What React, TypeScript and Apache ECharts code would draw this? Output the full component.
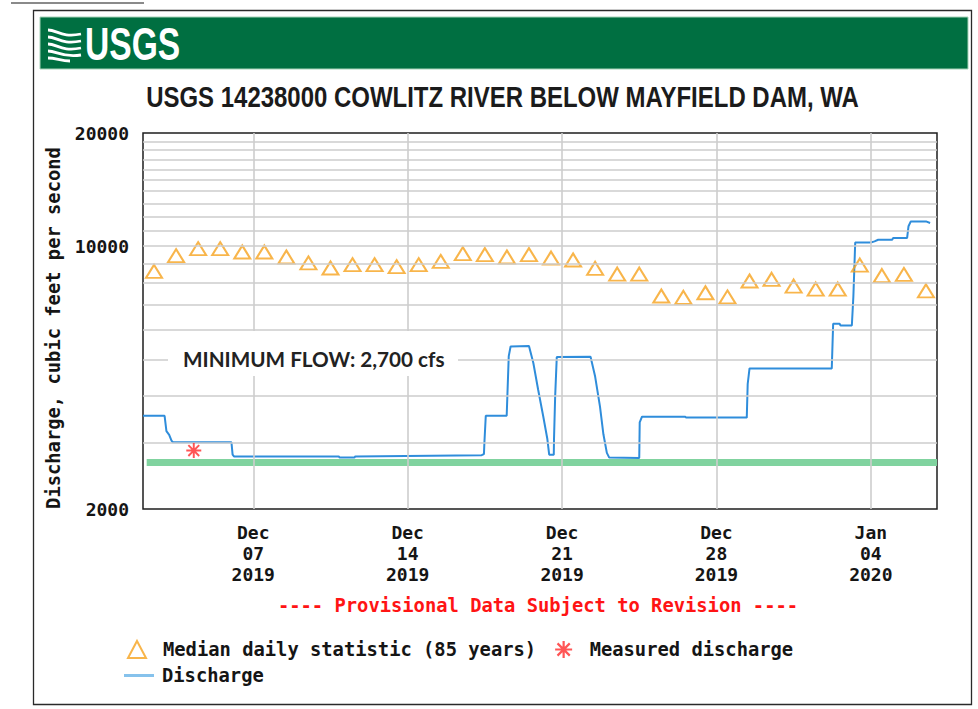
import React, { useEffect, useRef } from 'react';
import * as echarts from 'echarts';

const chartTitle = 'USGS 14238000 COWLITZ RIVER BELOW MAYFIELD DAM, WA';
const yAxisName = 'Discharge, cubic feet per second';
const provisionalNote = '---- Provisional Data Subject to Revision ----';
const minFlowNote = 'MINIMUM FLOW: 2,700 cfs';
const logoText = 'USGS';

const xMin = '2019-12-02 00:00';
const xMax = '2020-01-07 00:00';
const yMin = 2000;
const yMax = 20000;

const tickDates = ['2019-12-07 00:00', '2019-12-14 00:00', '2019-12-21 00:00', '2019-12-28 00:00', '2020-01-04 00:00'];
const tickLabels = ['Dec\n07\n2019', 'Dec\n14\n2019', 'Dec\n21\n2019', 'Dec\n28\n2019', 'Jan\n04\n2020'];
const gridValues = [3000, 4000, 5000, 6000, 7000, 8000, 9000, 10000, 11000, 12000, 13000, 14000, 15000, 16000, 17000, 18000, 19000];

const medianDays = [
  '2019-12-02', '2019-12-03', '2019-12-04', '2019-12-05', '2019-12-06', '2019-12-07', '2019-12-08', '2019-12-09',
  '2019-12-10', '2019-12-11', '2019-12-12', '2019-12-13', '2019-12-14', '2019-12-15', '2019-12-16', '2019-12-17',
  '2019-12-18', '2019-12-19', '2019-12-20', '2019-12-21', '2019-12-22', '2019-12-23', '2019-12-24', '2019-12-25',
  '2019-12-26', '2019-12-27', '2019-12-28', '2019-12-29', '2019-12-30', '2019-12-31', '2020-01-01', '2020-01-02',
  '2020-01-03', '2020-01-04', '2020-01-05', '2020-01-06',
];
const medianValues = [
  8570, 9435, 9850, 9850, 9650, 9650, 9360, 9025,
  8750, 8930, 8930, 8820, 8930, 9110, 9550, 9500,
  9360, 9500, 9300, 9190, 8730, 8430, 8430, 7370,
  7310, 7520, 7330, 8080, 8165, 7835, 7690, 7690,
  8910, 8350, 8410, 7610,
];

const measuredTimes = ['2019-12-04 07:15'];
const measuredValues = [2860];

const minFlowTimes = ['2019-12-02 04:00', '2020-01-07 00:00'];
const minFlowValue = 2660;

const dischargeTimes = [
  '2019-12-02 00:00', '2019-12-02 23:30', '2019-12-03 01:30', '2019-12-03 04:30', '2019-12-03 07:00', '2019-12-03 08:30',
  '2019-12-06 00:15', '2019-12-06 01:30', '2019-12-06 03:00', '2019-12-10 21:00', '2019-12-10 22:00', '2019-12-11 14:00',
  '2019-12-11 15:00', '2019-12-17 08:30', '2019-12-17 11:00', '2019-12-17 11:30', '2019-12-17 13:00', '2019-12-18 11:45',
  '2019-12-18 12:30', '2019-12-18 14:00', '2019-12-18 16:00', '2019-12-19 12:00', '2019-12-19 16:45', '2019-12-19 22:00',
  '2019-12-20 03:30', '2019-12-20 08:00', '2019-12-20 10:00', '2019-12-20 15:00', '2019-12-20 15:15', '2019-12-20 16:30',
  '2019-12-20 18:15', '2019-12-22 07:00', '2019-12-22 12:00', '2019-12-22 17:15', '2019-12-22 21:00', '2019-12-23 00:45',
  '2019-12-23 03:20', '2019-12-24 12:00', '2019-12-24 12:30', '2019-12-24 15:00', '2019-12-26 14:00', '2019-12-26 15:00',
  '2019-12-29 09:00', '2019-12-29 10:00', '2019-12-29 12:00', '2020-01-02 05:30', '2020-01-02 07:00', '2020-01-02 14:00',
  '2020-01-02 15:00', '2020-01-03 03:20', '2020-01-03 05:00', '2020-01-03 07:00', '2020-01-04 00:00', '2020-01-04 04:00',
  '2020-01-04 08:00', '2020-01-04 23:00', '2020-01-05 00:30', '2020-01-05 15:30', '2020-01-05 17:00', '2020-01-05 19:30',
  '2020-01-06 12:00', '2020-01-06 16:30',
];
const dischargeValues = [
  3540, 3540, 3220, 3150, 3040, 3010,
  3010, 2790, 2760, 2760, 2740, 2740,
  2760, 2780, 2800, 3000, 3540, 3540,
  4000, 5100, 5410, 5430, 4890, 4150,
  3530, 3070, 2790, 2790, 3070, 3990,
  5070, 5080, 4500, 3750, 3160, 2820,
  2740, 2735, 3400, 3520, 3520, 3500,
  3500, 4300, 4730, 4730, 6220, 6220,
  6150, 6150, 7350, 10230, 10230, 10300,
  10400, 10400, 10520, 10520, 11300, 11640,
  11640, 11530,
];

const ts = (s: string) => {
  const [d, t = '00:00'] = s.split(' ');
  const [y, m, dd] = d.split('-').map(Number);
  const [hh, mm] = t.split(':').map(Number);
  return new Date(y, m - 1, dd, hh, mm).getTime();
};

const wavePath =
  'M0,3 C9,3 14,11 33,7 M0,10 C9,10 14,18 33,14 M0,17 C9,17 14,25 33,21 M0,24 C9,24 14,31 33,28 M0,31 C8,31 13,34 22,34';
echarts.graphic.registerShape('usgsWave', echarts.graphic.extendPath(wavePath, {}));

const asteriskSymbol =
  'path://M8.7,0H11.3V20H8.7Z M0,8.7H20V11.3H0Z M1.9,3.7L3.7,1.9L18.1,16.3L16.3,18.1Z M16.3,1.9L18.1,3.7L3.7,18.1L1.9,16.3Z';

const MONO = '"DejaVu Sans Mono", monospace';

export default function App() {
  const ref = useRef<HTMLDivElement>(null);
  useEffect(() => {
    if (!ref.current) return;
    const chart = echarts.init(ref.current, null, { renderer: 'svg' });
    const tickTs = tickDates.map(ts);
    const monoText = { fontFamily: MONO, fontWeight: 'bold' as const, color: '#151515' };
    chart.setOption({
      animation: false,
      backgroundColor: '#ffffff',
      grid: {
        left: 143, top: 133, right: 41, bottom: 200,
        show: true, borderColor: '#1e1e1e', borderWidth: 1.5, backgroundColor: 'transparent',
        outerBoundsMode: 'none',
      },
      xAxis: {
        type: 'value',
        min: ts(xMin),
        max: ts(xMax),
        axisLine: { show: false },
        axisTick: { show: false, customValues: tickTs },
        splitLine: { show: false },
        axisLabel: {
          customValues: tickTs,
          formatter: (v: number) => {
            const i = tickTs.findIndex((t) => Math.abs(t - v) < 60000);
            return i >= 0 ? tickLabels[i] : '';
          },
          ...monoText,
          fontSize: 18,
          lineHeight: 21,
          margin: 13,
          hideOverlap: false,
        },
      },
      yAxis: {
        type: 'log',
        logBase: 10,
        min: yMin,
        max: yMax,
        axisLine: { show: false },
        axisTick: { show: false },
        splitLine: { show: false },
        axisLabel: {
          formatter: (v: number) => String(Math.round(v)),
          ...monoText,
          fontSize: 18,
          margin: 14,
        },
        name: yAxisName,
        nameLocation: 'middle',
        nameRotate: 90,
        nameGap: 80,
        nameTextStyle: { ...monoText, fontSize: 18.8, padding: [0, 14, 0, 0] },
      },
      legend: [
        {
          data: ['Median daily statistic (85 years)', 'Measured discharge'],
          left: 127, top: 640, padding: 0, itemWidth: 18, itemHeight: 17, itemGap: 19,
          selectedMode: false,
          textStyle: { ...monoText, fontSize: 18.8, padding: [0, 0, 0, 12] },
        },
        {
          data: [{ name: 'Discharge', icon: 'rect', itemStyle: { color: '#86c2ec' } }],
          left: 124, top: 666, padding: 0, itemWidth: 30, itemHeight: 3,
          selectedMode: false,
          textStyle: { ...monoText, fontSize: 18.8, padding: [0, 0, 0, 3] },
        },
      ],
      graphic: {
        elements: [
          { type: 'line', silent: true, shape: { x1: 11, y1: 3, x2: 144, y2: 3 }, style: { stroke: '#8a8a8a', lineWidth: 2 } },
          { type: 'rect', silent: true, shape: { x: 33.5, y: 10.5, width: 938, height: 694 }, style: { fill: 'none', stroke: '#2a2a2a', lineWidth: 1.3 } },
          { type: 'rect', silent: true, shape: { x: 40, y: 17, width: 928, height: 52 }, style: { fill: '#006f41', stroke: '#a6d3b8', lineWidth: 1 } },
          { type: 'usgsWave', silent: true, x: 48, y: 27, style: { fill: 'none', stroke: '#ffffff', lineWidth: 2.8 } },
          {
            type: 'text', silent: true, x: 85, y: 43.5, scaleX: 0.715,
            style: { text: logoText, font: 'bold 47px "Liberation Sans", Arial, sans-serif', fill: '#ffffff', align: 'left', verticalAlign: 'middle' },
          },
          {
            type: 'text', silent: true, x: 502.5, y: 97, scaleX: 0.838,
            style: { text: chartTitle, font: 'bold 28.6px "Liberation Sans", Arial, sans-serif', fill: '#1b1b1b', align: 'center', verticalAlign: 'middle' },
          },
          { type: 'rect', silent: true, z: 100, shape: { x: 168, y: 331, width: 290, height: 45 }, style: { fill: '#ffffff' } },
          {
            type: 'text', silent: true, z: 101, x: 183, y: 358, scaleX: 0.985,
            style: { text: minFlowNote, font: 'bold 21px Lato, "Open Sans", sans-serif', fill: '#222222', align: 'left', verticalAlign: 'middle' },
          },
          {
            type: 'text', silent: true, x: 538, y: 605,
            style: { text: provisionalNote, font: 'bold 18.8px "DejaVu Sans Mono", monospace', fill: '#ff1414', align: 'center', verticalAlign: 'middle' },
          },
        ],
      },
      series: [
        {
          name: 'gridlines',
          type: 'line',
          z: 1,
          data: [],
          silent: true,
          markLine: {
            silent: true,
            symbol: ['none', 'none'],
            label: { show: false },
            lineStyle: { color: '#cdcdcd', width: 1.6, type: 'solid' },
            emphasis: { disabled: true },
            data: [...gridValues.map((v) => ({ yAxis: v })), ...tickTs.map((t) => ({ xAxis: t }))],
          },
        },
        {
          name: 'Minimum flow',
          type: 'line',
          z: 2,
          silent: true,
          symbol: 'none',
          lineStyle: { color: '#80d39f', width: 7, cap: 'butt' },
          data: minFlowTimes.map((t) => [ts(t), minFlowValue]),
        },
        {
          name: 'Discharge',
          type: 'line',
          z: 3,
          symbol: 'none',
          showSymbol: false,
          color: '#2f8ddb',
          lineStyle: { color: '#2f8ddb', width: 2 },
          data: dischargeTimes.map((t, i) => [ts(t), dischargeValues[i]]),
        },
        {
          name: 'Median daily statistic (85 years)',
          type: 'scatter',
          z: 4,
          symbol: 'triangle',
          symbolSize: [16, 13],
          itemStyle: { color: 'rgba(255,255,255,0)', borderColor: '#f6a21e', borderWidth: 2 },
          data: medianDays.map((d, i) => [ts(d + ' 12:00'), medianValues[i]]),
        },
        {
          name: 'Measured discharge',
          type: 'scatter',
          z: 5,
          symbol: asteriskSymbol,
          symbolSize: 15,
          itemStyle: { color: '#ff2a2a' },
          data: measuredTimes.map((t, i) => [ts(t), measuredValues[i]]),
        },
      ],
    });
    return () => chart.dispose();
  }, []);
  return <div ref={ref} style={{ position: 'absolute', left: 0, top: 0, width: 978, height: 709 }} />;
}
